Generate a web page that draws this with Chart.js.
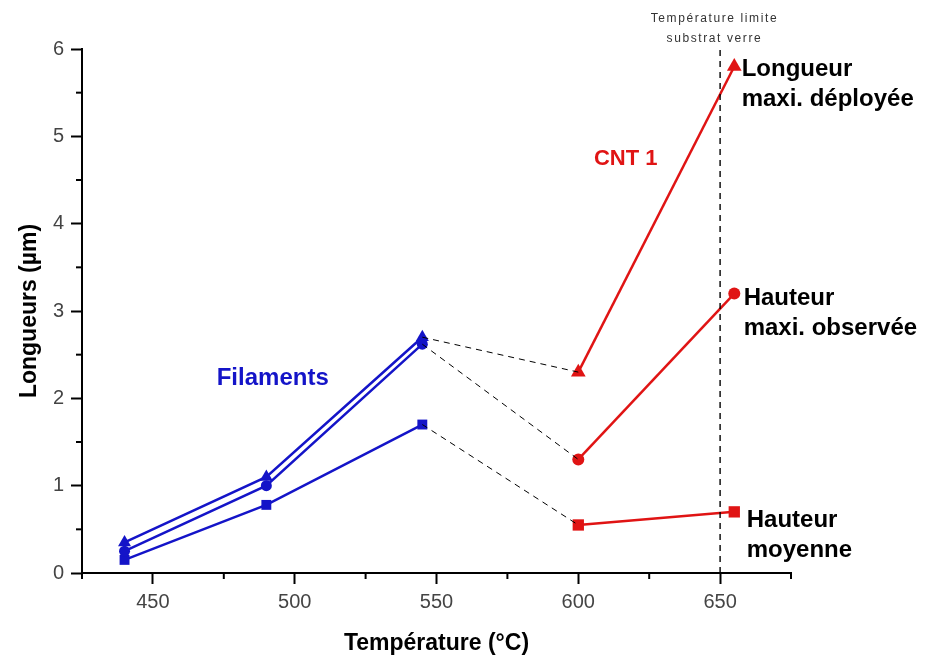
<!DOCTYPE html>
<html>
<head>
<meta charset="utf-8">
<script src="https://cdn.jsdelivr.net/npm/chart.js@4.4.0/dist/chart.umd.min.js"></script>
<style>
  html, body { margin: 0; padding: 0; background: #fff; }
  #wrap { width: 933px; height: 657px; }
</style>
</head>
<body>
<div id="wrap"><canvas id="chart"></canvas></div>
<script>
// Filaments (blue) and CNT 1 (red) growth lengths
const filamentTemps = [440, 490, 545];
const filamentLongueurMax = [0.35, 1.1, 2.7];
const filamentHauteurMax = [0.25, 1.0, 2.62];
const filamentHauteurMoy = [0.15, 0.78, 1.7];

const cntTemps = [600, 655];
const cntLongueurMax = [2.3, 5.8];
const cntHauteurMax = [1.3, 3.2];
const cntHauteurMoy = [0.55, 0.7];

const limitTemp = 650;
const yLimits = [0, 6];

const xTicks = [450, 500, 550, 600, 650];
const xMinorTicks = [425, 475, 525, 575, 625, 675];
const yTicks = [0, 1, 2, 3, 4, 5, 6];
const yMinorTicks = [0.5, 1.5, 2.5, 3.5, 4.5, 5.5];

const BLUE = "#1414c8";
const RED = "#e01414";

function pts(xs, ys) {
  return xs.map((x, i) => ({ x: x, y: ys[i] }));
}

// dashed link between last filament point and first CNT point
function link(fil, cnt) {
  return [{ x: filamentTemps[filamentTemps.length - 1], y: fil[fil.length - 1] }, { x: cntTemps[0], y: cnt[0] }];
}

function series(data, color, style, radius) {
  return {
    data: data,
    borderColor: color,
    backgroundColor: color,
    borderWidth: 2.5,
    pointStyle: style,
    pointRadius: radius,
    pointBorderWidth: 0,
    showLine: true,
    tension: 0
  };
}

function dashed(data, width) {
  return {
    data: data,
    borderColor: "#000",
    borderWidth: width || 1,
    borderDash: [6, 5],
    pointRadius: 0,
    showLine: true
  };
}

// free text on the chart, placed in axis units
const notes = [
  { text: "Filaments", x: 472.5, y: 2.15, font: "bold 24px 'Liberation Sans', Arial", color: BLUE, align: "left" },
  { text: "CNT 1", x: 605.5, y: 4.67, font: "bold 22px 'Liberation Sans', Arial", color: RED, align: "left" },
  { text: "Longueur", x: 657.6, y: 5.69, font: "bold 24px 'Liberation Sans', Arial", color: "#000", align: "left" },
  { text: "maxi. déployée", x: 657.6, y: 5.35, font: "bold 24px 'Liberation Sans', Arial", color: "#000", align: "left" },
  { text: "Hauteur", x: 658.3, y: 3.07, font: "bold 24px 'Liberation Sans', Arial", color: "#000", align: "left" },
  { text: "maxi. observée", x: 658.3, y: 2.73, font: "bold 24px 'Liberation Sans', Arial", color: "#000", align: "left" },
  { text: "Hauteur", x: 659.4, y: 0.53, font: "bold 24px 'Liberation Sans', Arial", color: "#000", align: "left" },
  { text: "moyenne", x: 659.4, y: 0.18, font: "bold 24px 'Liberation Sans', Arial", color: "#000", align: "left" },
  { text: "Température limite", x: 648, y: 6.31, font: "12px 'Liberation Sans', Arial", color: "#333", align: "center", spacing: "1.6px" },
  { text: "substrat verre", x: 648, y: 6.08, font: "12px 'Liberation Sans', Arial", color: "#333", align: "center", spacing: "1.6px" }
];

const extras = {
  id: "extras",
  afterDraw(chart) {
    const ctx = chart.ctx;
    const xs = chart.scales.x, ys = chart.scales.y;
    const area = chart.chartArea;
    ctx.save();
    // minor ticks
    ctx.strokeStyle = "#000";
    ctx.lineWidth = 2;
    xMinorTicks.forEach(v => {
      const px = xs.getPixelForValue(v);
      ctx.beginPath();
      ctx.moveTo(px, area.bottom);
      ctx.lineTo(px, area.bottom + 6);
      ctx.stroke();
    });
    yMinorTicks.forEach(v => {
      const py = ys.getPixelForValue(v);
      ctx.beginPath();
      ctx.moveTo(area.left, py);
      ctx.lineTo(area.left - 6, py);
      ctx.stroke();
    });
    // labels
    ctx.textBaseline = "alphabetic";
    notes.forEach(n => {
      ctx.font = n.font;
      ctx.fillStyle = n.color;
      ctx.textAlign = n.align;
      ctx.letterSpacing = n.spacing || "0px";
      ctx.fillText(n.text, xs.getPixelForValue(n.x), ys.getPixelForValue(n.y));
    });
    ctx.restore();
  }
};

const tickFont = { family: "'Liberation Sans', Arial", size: 20 };
const titleFont = { family: "'Liberation Sans', Arial", size: 23, weight: "bold" };

new Chart(document.getElementById("chart"), {
  type: "scatter",
  data: {
    datasets: [
      dashed([{ x: limitTemp, y: yLimits[0] }, { x: limitTemp, y: yLimits[1] }], 1.4),
      dashed(link(filamentLongueurMax, cntLongueurMax)),
      dashed(link(filamentHauteurMax, cntHauteurMax)),
      dashed(link(filamentHauteurMoy, cntHauteurMoy)),
      series(pts(filamentTemps, filamentLongueurMax), BLUE, "triangle", 7.5),
      series(pts(filamentTemps, filamentHauteurMax), BLUE, "circle", 5.5),
      series(pts(filamentTemps, filamentHauteurMoy), BLUE, "rect", 7),
      series(pts(cntTemps, cntLongueurMax), RED, "triangle", 8.5),
      series(pts(cntTemps, cntHauteurMax), RED, "circle", 6),
      series(pts(cntTemps, cntHauteurMoy), RED, "rect", 8)
    ]
  },
  options: {
    responsive: true,
    maintainAspectRatio: false,
    animation: false,
    clip: false,
    layout: { padding: { top: 49, right: 142, left: 0, bottom: 0 } },
    plugins: {
      legend: { display: false },
      tooltip: { enabled: false }
    },
    scales: {
      x: {
        type: "linear",
        min: 425,
        max: 675,
        afterBuildTicks: s => { s.ticks = xTicks.map(v => ({ value: v })); },
        afterFit: s => { s.height = 84; },
        grid: { drawOnChartArea: false, tickLength: 11, tickColor: "#000", tickWidth: 2 },
        border: { display: true, color: "#000", width: 2 },
        ticks: { font: tickFont, color: "#444", padding: 6, autoSkip: false, maxRotation: 0 },
        title: { display: true, text: "Température (°C)", font: titleFont, color: "#000", padding: { top: 5, bottom: 0 } }
      },
      y: {
        type: "linear",
        min: 0,
        max: 6,
        afterBuildTicks: s => { s.ticks = yTicks.map(v => ({ value: v })); },
        afterFit: s => { s.width = 82; },
        grid: { drawOnChartArea: false, tickLength: 11, tickColor: "#000", tickWidth: 2 },
        border: { display: true, color: "#000", width: 2 },
        ticks: { font: tickFont, color: "#444", padding: 7 },
        title: { display: true, text: "Longueurs (µm)", font: titleFont, color: "#000", padding: { top: 16, bottom: 0 } }
      }
    }
  },
  plugins: [extras]
});
</script>
</body>
</html>
